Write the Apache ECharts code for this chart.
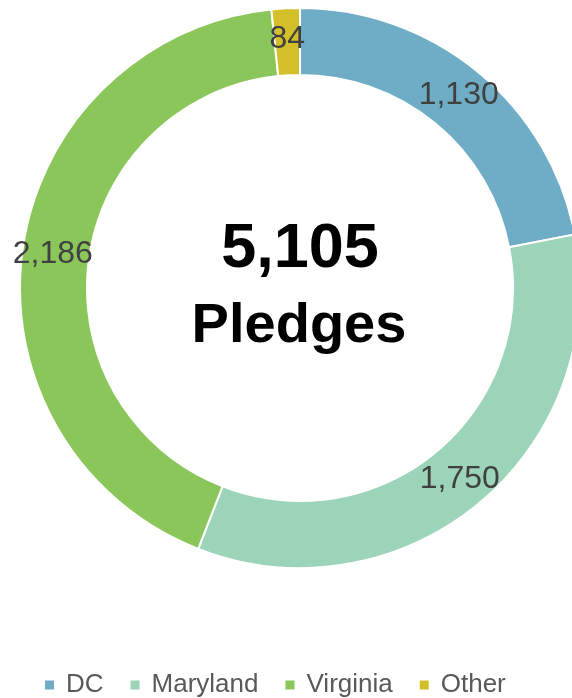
<!DOCTYPE html>
<html>
<head>
<meta charset="utf-8">
<script src="https://cdn.jsdelivr.net/npm/echarts@6/dist/echarts.min.js"></script>
<style>
  html, body { margin: 0; padding: 0; background: #fff; }
  #chart { width: 572px; height: 698px; }
</style>
</head>
<body>
<div id="chart"></div>
<script>
// 各地区的承诺数
const regions = ['DC', 'Maryland', 'Virginia', 'Other'];
const pledges = [1130, 1750, 2186, 84];
const colors = ['#6fadc7', '#9bd4b9', '#8bc65a', '#d3bf2a'];
const centerNumber = '5,105';
const centerWord = 'Pledges';

const myChart = echarts.init(document.getElementById('chart'));

const seriesData = regions.map((name, i) => {
    return { name: name, value: pledges[i], itemStyle: { color: colors[i] } };
});

const option = {
    animation: false,
    legend: {
        data: regions,
        top: 667,
        left: 38,
        itemWidth: 11,
        itemHeight: 11,
        itemGap: 25,
        icon: 'rect',
        textStyle: {
            fontFamily: 'Liberation Sans, Arial, sans-serif',
            fontSize: 26,
            color: '#595959',
            padding: [0, 0, 0, 6]
        }
    },
    // 中间的总数文字
    graphic: [{
        type: 'text',
        x: 300,
        y: 250,
        style: {
            text: centerNumber,
            fill: '#000',
            font: 'bold 63px "Liberation Sans", Arial, sans-serif',
            textAlign: 'center',
            textVerticalAlign: 'middle'
        }
    }, {
        type: 'text',
        x: 299,
        y: 327,
        style: {
            text: centerWord,
            fill: '#000',
            font: 'bold 56px "Liberation Sans", Arial, sans-serif',
            textAlign: 'center',
            textVerticalAlign: 'middle'
        }
    }],
    series: [{
        type: 'pie',
        center: [300, 288],
        radius: [213, 280],
        startAngle: 90,
        clockwise: true,
        avoidLabelOverlap: false,
        itemStyle: { borderColor: '#fff', borderWidth: 2 },
        label: {
            show: true,
            position: 'inside',
            formatter: p => p.value.toLocaleString('en-US'),
            fontFamily: 'Liberation Sans, Arial, sans-serif',
            fontSize: 32,
            color: '#404040'
        },
        labelLine: { show: false },
        emphasis: { disabled: true },
        data: seriesData
    }]
};
option && myChart.setOption(option);
</script>
</body>
</html>
